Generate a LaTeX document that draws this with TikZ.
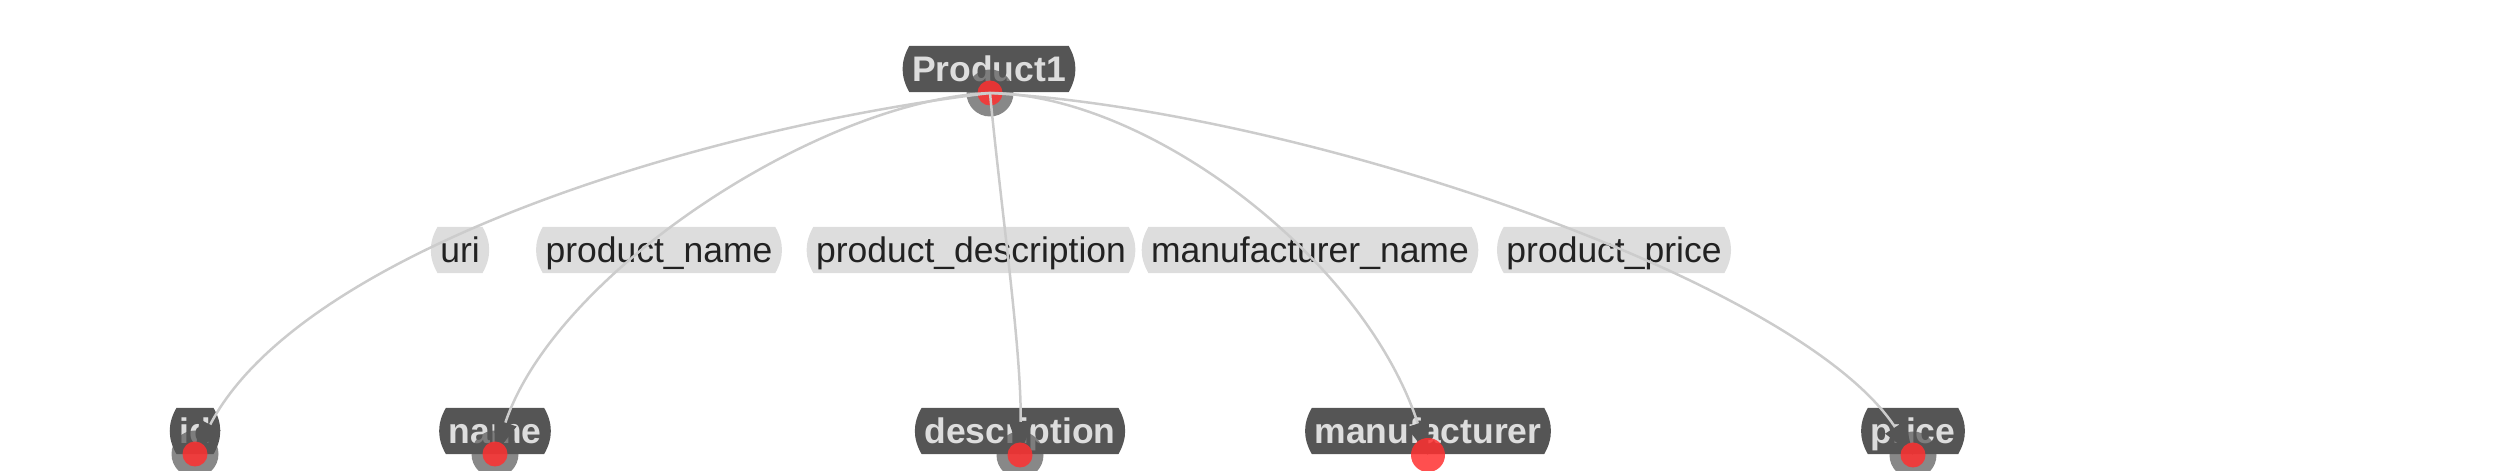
\documentclass[tikz,border=0pt]{standalone}
\usepackage{fontspec}
\setmainfont{Liberation Sans}
\usepackage{tikz}
\usetikzlibrary{arrows.meta}
\usetikzlibrary{backgrounds}
\definecolor{nodegrey}{HTML}{555555}
\definecolor{nodetext}{HTML}{DDDDDD}
\definecolor{labelgrey}{HTML}{DDDDDD}
\definecolor{labeltext}{HTML}{222222}
\definecolor{linkgrey}{HTML}{CCCCCC}
\definecolor{dotred}{HTML}{FF3030}
\tikzset{% looks of the graph
        entity/.style={text=nodetext, font=\fontsize{10.1}{12}\selectfont\bfseries,
                inner xsep=0.2mm, inner ysep=0.98mm, text height=2.54mm, text depth=0pt},
        prop/.style={entity, text=labeltext, font=\fontsize{10.1}{12}\selectfont},
        link/.style={draw=linkgrey, line width=0.25mm,
                -{Triangle[length=3.3mm,width=2.3mm,color=nodegrey]}},
        halo/.style={fill=nodegrey, opacity=0.7},
        dot/.style={fill=dotred, opacity=0.85}
        }

\begin{document}
\begin{tikzpicture}[x=0.1mm,y=-0.1mm]
\clip (0,0) rectangle (2517,471);
% resource and its values
\node[entity] (p1) at (989,69) {Product1};
\node[entity] (id) at (195,431) {id};
\node[entity] (name) at (495,431) {name};
\node[entity] (desc) at (1020,431) {description};
\node[entity] (manu) at (1428,431) {manufacturer};
\node[entity] (price) at (1913,431) {price};
% predicates
\node[prop] (uri) at (460,250) {uri};
\node[prop] (pname) at (659,250) {product\_name};
\node[prop] (pdesc) at (971,250) {product\_description};
\node[prop] (mname) at (1310,250) {manufacturer\_name};
\node[prop] (pprice) at (1614,250) {product\_price};

\begin{scope}[on background layer]
\foreach \n/\col in {p1/nodegrey,id/nodegrey,name/nodegrey,desc/nodegrey,manu/nodegrey,price/nodegrey,
        uri/labelgrey,pname/labelgrey,pdesc/labelgrey,mname/labelgrey,pprice/labelgrey}
  \fill[\col] (\n.north west) to[bend right=30] (\n.south west) -- (\n.south east)
        to[bend right=30] (\n.north east) -- cycle;
\end{scope}

\coordinate (p1c) at (990,93);
\coordinate (idc) at (195,454);
\coordinate (namec) at (495,454);
\coordinate (descc) at (1020,455);
\coordinate (manuc) at (1428,455);
\coordinate (pricec) at (1913,455);

\foreach \c in {p1c,idc,namec,descc,pricec}
  \fill[halo] (\c) circle[radius=23.5];
\fill[dot] (p1c) circle[radius=12.5];

\draw[link] (p1c) .. controls +(-290,35) and +(105,-203) .. (idc);
\draw[link] (p1c) .. controls +(-170,7) and +(60,-181) .. (namec);
\draw[link] (p1c) .. controls +(10,107) and +(2,-103) .. (descc);
\draw[link] (p1c) .. controls +(160,2) and +(-63,-195) .. (manuc);
\draw[link] (p1c) .. controls +(310,17) and +(-113,-175) .. (pricec);

\foreach \c in {idc,namec,descc,pricec}
  \fill[dot] (\c) circle[radius=12.5];
\fill[dot] (manuc) circle[radius=17];
\end{tikzpicture}
\end{document}
